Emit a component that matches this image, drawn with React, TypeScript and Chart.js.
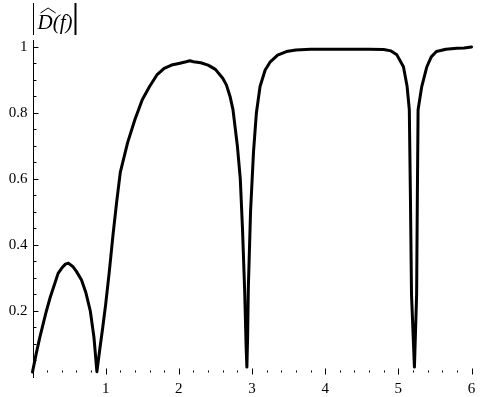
import React, { useEffect, useRef } from "react";
import { Chart, registerables } from "chart.js";

Chart.register(...registerables);

// frequency f (x) and |D̂(f)| (y)
const fValues = [
  0, 0.05, 0.1, 0.15, 0.19, 0.24, 0.3, 0.35, 0.4, 0.45, 0.49, 0.55, 0.6, 0.67, 0.73, 0.79, 0.84, 0.88,
  0.92, 0.96, 1.0, 1.05, 1.1, 1.15, 1.2, 1.3, 1.4, 1.5, 1.6, 1.7, 1.8, 1.9, 2.0, 2.1, 2.15, 2.2, 2.3,
  2.4, 2.5, 2.6, 2.65, 2.7, 2.74, 2.8, 2.84, 2.87, 2.9, 2.92, 2.93, 2.94, 2.95, 2.98, 3.02, 3.06, 3.11,
  3.18, 3.25, 3.35, 3.47, 3.6, 3.8, 4.0, 4.2, 4.4, 4.6, 4.8, 4.9, 4.98, 5.07, 5.12, 5.15, 5.165, 5.18,
  5.22, 5.25, 5.26, 5.27, 5.32, 5.39, 5.45, 5.52, 5.65, 5.8, 5.9, 6.0,
];
const dValues = [
  0.015, 0.07, 0.12, 0.165, 0.2, 0.24, 0.28, 0.314, 0.33, 0.342, 0.345, 0.335, 0.32, 0.294, 0.255, 0.2,
  0.12, 0.016, 0.085, 0.15, 0.22, 0.32, 0.43, 0.53, 0.62, 0.71, 0.78, 0.84, 0.88, 0.915, 0.935, 0.945,
  0.95, 0.955, 0.958, 0.955, 0.952, 0.945, 0.932, 0.905, 0.885, 0.85, 0.81, 0.7, 0.6, 0.45, 0.26, 0.09,
  0.03, 0.12, 0.27, 0.5, 0.68, 0.8, 0.88, 0.93, 0.955, 0.975, 0.986, 0.991, 0.993, 0.993, 0.993, 0.993,
  0.993, 0.992, 0.988, 0.976, 0.94, 0.88, 0.81, 0.55, 0.25, 0.03, 0.25, 0.55, 0.81, 0.88, 0.94, 0.97,
  0.986, 0.993, 0.996, 0.997, 1.0,
];

const xTickValues = [1, 2, 3, 4, 5, 6];
const xTickLabels = ["1", "2", "3", "4", "5", "6"];
const yTickValues = [0.2, 0.4, 0.6, 0.8, 1];
const yTickLabels = ["0.2", "0.4", "0.6", "0.8", "1"];
const xMinorStep = 0.2;
const yMinorStep = 0.05;
const axisOriginY = 0.018;
const yAxisTitle = "D(f)";

const FONT = "'Liberation Serif', 'DejaVu Serif', serif";

const axesPlugin = {
  id: "mmaAxes",
  beforeDatasetsDraw(chart: any) {
    const { ctx, scales, chartArea } = chart;
    const xs = scales.x;
    const ys = scales.y;
    const x0 = Math.round(xs.getPixelForValue(0)) + 0.5;
    const yAx = Math.round(ys.getPixelForValue(axisOriginY)) + 0.5;
    ctx.save();
    ctx.strokeStyle = "#000";
    ctx.fillStyle = "#000";
    ctx.lineWidth = 1;
    // y axis line
    ctx.beginPath();
    ctx.moveTo(x0, chartArea.top);
    ctx.lineTo(x0, chartArea.bottom + 1);
    ctx.stroke();
    // y ticks
    for (let k = 1; k * yMinorStep <= 1.0001; k++) {
      const v = k * yMinorStep;
      const py = Math.round(ys.getPixelForValue(v)) + 0.5;
      const major = k % 4 === 0;
      ctx.beginPath();
      ctx.moveTo(x0, py);
      ctx.lineTo(x0 + (major ? 5 : 3), py);
      ctx.stroke();
    }
    // x ticks (no axis line, only marks)
    for (let k = 1; k * xMinorStep <= 6.0001; k++) {
      const v = k * xMinorStep;
      const px = Math.round(xs.getPixelForValue(v)) + 0.5;
      const major = k % 5 === 0;
      ctx.beginPath();
      if (major) {
        ctx.moveTo(px, yAx - 3);
        ctx.lineTo(px, yAx + 3);
      } else {
        ctx.moveTo(px, yAx - 1);
        ctx.lineTo(px, yAx + 1);
      }
      ctx.stroke();
    }
    // tick labels
    ctx.font = `15px ${FONT}`;
    ctx.textAlign = "right";
    ctx.textBaseline = "middle";
    yTickValues.forEach((v, i) => {
      ctx.fillText(yTickLabels[i], x0 - 6, ys.getPixelForValue(v));
    });
    ctx.textAlign = "center";
    ctx.textBaseline = "middle";
    xTickValues.forEach((v, i) => {
      ctx.fillText(xTickLabels[i], xs.getPixelForValue(v), yAx + 18);
    });
    // axis title |D̂(f)|
    ctx.font = `italic 21px ${FONT}`;
    ctx.textAlign = "left";
    ctx.textBaseline = "alphabetic";
    const tx = x0 + 4;
    const ty = 29;
    ctx.fillText(yAxisTitle, tx, ty);
    const w = ctx.measureText(yAxisTitle).width;
    const dW = ctx.measureText("D").width;
    // hat over D
    ctx.lineWidth = 1;
    ctx.beginPath();
    ctx.moveTo(tx + 3, 13);
    ctx.lineTo(tx + 3 + dW / 2, 8);
    ctx.lineTo(tx + 3 + dW, 13);
    ctx.stroke();
    // absolute value bars
    ctx.beginPath();
    ctx.moveTo(x0 - 0.5 + 0.5, 3);
    ctx.lineTo(x0 - 0.5 + 0.5, 35);
    ctx.stroke();
    ctx.lineWidth = 2;
    ctx.beginPath();
    ctx.moveTo(tx + w + 3, 3);
    ctx.lineTo(tx + w + 3, 35);
    ctx.stroke();
    ctx.restore();
  },
};

export default function App() {
  const ref = useRef<HTMLCanvasElement | null>(null);
  useEffect(() => {
    if (!ref.current) return;
    const points = fValues.map((f, i) => ({ x: f, y: dValues[i] }));
    const chart = new Chart(ref.current, {
      type: "line",
      data: {
        datasets: [
          {
            data: points,
            borderColor: "#000",
            borderWidth: 3,
            pointRadius: 0,
            tension: 0,
            fill: false,
            borderJoinStyle: "round",
            borderCapStyle: "round",
            clip: false,
          } as any,
        ],
      },
      options: {
        responsive: false,
        animation: false,
        events: [],
        layout: { padding: { left: 32.5, right: 9.5, top: 40, bottom: 20 } },
        plugins: { legend: { display: false }, tooltip: { enabled: false } },
        scales: {
          x: { type: "linear", min: 0, max: 6, display: false },
          y: { type: "linear", min: 0, max: 1.021, display: false },
        },
      },
      plugins: [axesPlugin],
    });
    return () => chart.destroy();
  }, []);
  return (
    <div style={{ position: "fixed", left: 0, top: 0, width: 481, height: 397, background: "#fff" }}>
      <canvas ref={ref} width={481} height={397} />
    </div>
  );
}
